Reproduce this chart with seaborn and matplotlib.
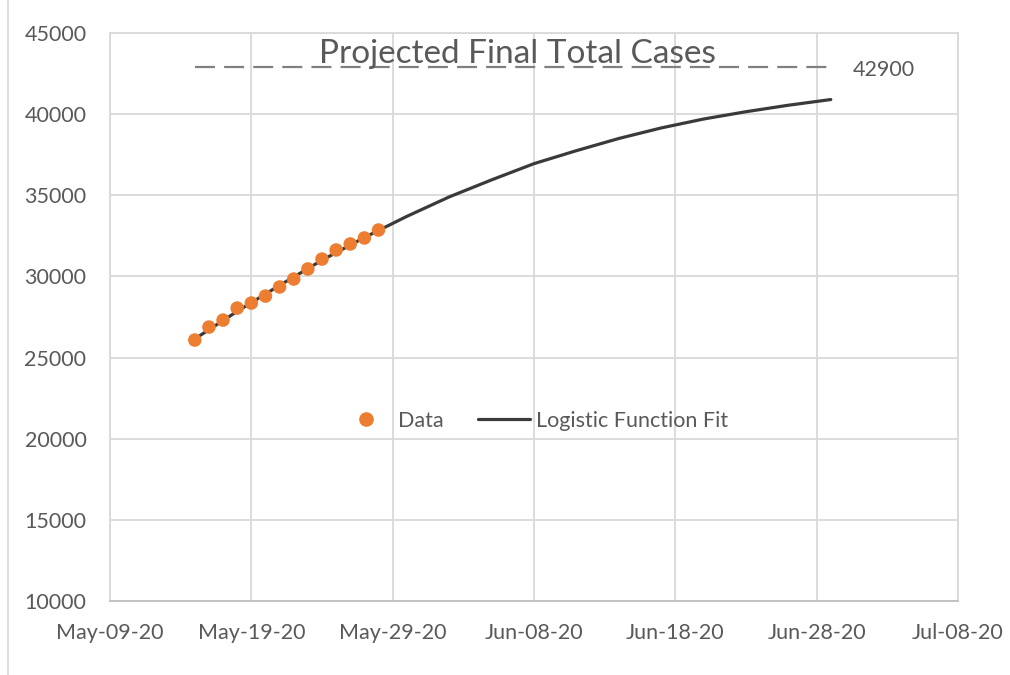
import pandas as pd
import matplotlib.pyplot as plt
import matplotlib.dates as mdates
from matplotlib.lines import Line2D
import seaborn as sns

# observed cumulative cases, one per day from May-15-20
data_dates = pd.date_range("2020-05-15", "2020-05-28", freq="D")
data_cases = [26080, 26880, 27310, 28050, 28360, 28790, 29350,
              29840, 30460, 31070, 31630, 32000, 32370, 32860]

# logistic fit, every 3 days
fit_dates = pd.date_range("2020-05-15", "2020-06-29", freq="3D")
fit_cases = [26150, 27850, 29450, 31000, 32400, 33700, 34900, 35950,
             36950, 37750, 38500, 39150, 39700, 40150, 40550, 40900]

final_total = 42900
x_ticks = pd.date_range("2020-05-09", "2020-07-08", freq="10D")
y_ticks = list(range(10000, 45001, 5000))

sns.set_theme(style="whitegrid")
plt.rcParams["font.family"] = ["Lato", "DejaVu Sans"]
text_col = "#595959"
fs = 15.5

fig, ax = plt.subplots(figsize=(10.1, 6.75), dpi=100)
fig.subplots_adjust(left=0.1089, right=0.9485, top=0.9511, bottom=0.1096)

df_data = pd.DataFrame({"date": data_dates, "cases": data_cases})
df_fit = pd.DataFrame({"date": fit_dates, "cases": fit_cases})

ax.plot([fit_dates[0], fit_dates[-1]], [final_total, final_total],
        color="#808080", lw=1.6, linestyle=(0, (9.0, 4.1)), zorder=2)
sns.lineplot(data=df_fit, x="date", y="cases", color="#3a3a3a", lw=2.3,
             ax=ax, zorder=3)
sns.scatterplot(data=df_data, x="date", y="cases", color="#ED7D31", s=95,
                edgecolor="none", ax=ax, zorder=4)

ax.annotate(f"{final_total}", xy=(fit_dates[-1], final_total),
            xytext=(16, -2), textcoords="offset points", va="center",
            ha="left", fontsize=fs, color=text_col)

ax.text(0.48, 0.963, "Projected Final Total Cases", transform=ax.transAxes,
        ha="center", va="center", fontsize=24, color=text_col, zorder=5)

ax.set_xlim(x_ticks[0], x_ticks[-1])
ax.set_ylim(10000, 45000)
ax.set_xticks(x_ticks)
ax.set_yticks(y_ticks)
ax.xaxis.set_major_formatter(mdates.DateFormatter("%b-%d-%y"))
ax.set_xlabel("")
ax.set_ylabel("")
ax.tick_params(axis="both", length=0, labelsize=fs, labelcolor=text_col)
ax.tick_params(axis="y", pad=17)
ax.tick_params(axis="x", pad=16)
ax.grid(True, color="#d9d9d9", lw=1.3)
for s in ax.spines.values():
    s.set_color("#d9d9d9")
    s.set_linewidth(1.3)
ax.spines["bottom"].set_color("#bfbfbf")

handles = [
    Line2D([], [], marker="o", color="#ED7D31", linestyle="none", markersize=9.5),
    Line2D([], [], color="#3a3a3a", lw=2.3),
]
ax.legend(handles, ["Data", "Logistic Function Fit"], loc="center",
          bbox_to_anchor=(0.5, 0.317), ncol=2, frameon=False, fontsize=fs,
          labelcolor=text_col, handlelength=2.4, columnspacing=1.6,
          handletextpad=0.3)

fig.add_artist(Line2D([0.008, 0.008], [0, 1], color="#d9d9d9", lw=1.2))

fig.savefig("out.png", dpi=100)
